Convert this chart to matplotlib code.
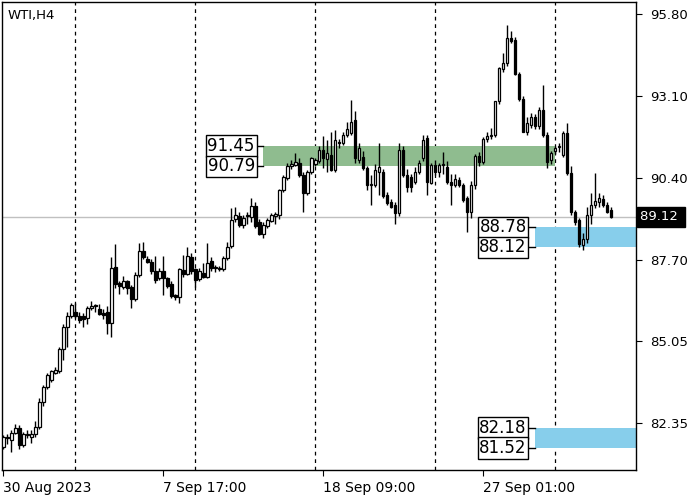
import matplotlib
matplotlib.use('Agg')
import matplotlib.pyplot as plt
import matplotlib.transforms as mtransforms

# H4 candles, oldest first
opens = [81.56, 81.90, 81.79, 82.03, 82.19, 81.62, 81.95, 81.88, 82.00, 82.22,
         83.05, 83.53, 83.77, 83.99, 84.04, 84.78, 85.50, 85.85, 86.01, 85.87,
         85.85, 85.80, 86.13, 86.20, 86.10, 85.97, 86.01, 85.64, 87.46, 86.95,
         86.82, 87.00, 86.83, 86.42, 87.20, 88.00, 87.74, 87.65, 87.35, 87.10,
         87.35, 87.10, 86.92, 86.56, 86.50, 87.38, 87.25, 87.82, 87.40, 87.08,
         87.28, 87.15, 87.66, 87.45, 87.40, 87.40, 87.76, 88.15, 89.05, 89.15,
         88.85, 89.15, 89.13, 89.48, 88.95, 88.55, 88.83, 89.00, 89.15, 89.19,
         90.00, 90.40, 90.80, 90.84, 90.90, 90.50, 89.90, 90.60, 90.87, 90.97,
         91.33, 91.02, 91.16, 90.67, 91.60, 91.55, 91.82, 91.87, 92.31, 90.99,
         91.10, 90.72, 90.17, 90.17, 90.60, 90.60, 89.85, 89.60, 89.50, 89.25,
         91.33, 90.50, 90.42, 90.27, 90.60, 91.05, 91.71, 90.25, 90.83, 90.61,
         90.83, 90.78, 90.28, 90.17, 90.35, 90.17, 89.74, 89.30, 90.17, 91.13,
         90.94, 91.68, 91.78, 91.82, 92.92, 93.98, 94.18, 95.00, 94.95, 93.83,
         93.00, 91.93, 92.15, 92.42, 92.10, 92.64, 91.82, 91.00, 91.30, 91.43,
         91.16, 91.88, 90.56, 89.30, 89.02, 88.20, 88.40, 89.18, 89.50, 89.62,
         89.70, 89.50, 89.35]
highs = [81.95, 82.00, 82.10, 82.30, 82.28, 82.05, 82.10, 82.10, 82.40, 83.17,
         83.60, 84.00, 84.10, 84.20, 84.85, 85.60, 86.00, 86.30, 86.30, 86.00,
         85.95, 86.20, 86.37, 86.25, 86.25, 86.10, 86.20, 87.82, 88.23, 87.00,
         87.18, 87.05, 86.90, 87.30, 88.26, 88.30, 87.85, 87.75, 87.85, 87.45,
         87.85, 87.15, 87.00, 86.60, 87.45, 87.87, 88.13, 87.95, 87.45, 87.45,
         87.60, 88.28, 87.80, 87.55, 87.50, 87.85, 88.30, 89.41, 89.45, 89.30,
         89.20, 89.30, 89.76, 89.60, 89.05, 88.95, 89.10, 89.25, 89.30, 90.05,
         90.50, 90.89, 91.00, 91.22, 91.05, 90.60, 90.65, 91.10, 91.05, 91.45,
         91.77, 91.65, 91.93, 91.98, 91.68, 91.90, 92.23, 92.97, 92.59, 91.55,
         91.30, 90.80, 90.50, 90.85, 91.55, 90.70, 89.95, 89.70, 89.60, 91.55,
         91.45, 90.70, 90.55, 90.75, 91.00, 91.82, 91.80, 90.90, 91.00, 90.90,
         91.27, 90.95, 90.55, 90.55, 90.45, 90.25, 89.80, 90.30, 91.20, 91.25,
         91.75, 91.90, 92.04, 92.95, 94.05, 94.51, 95.44, 95.22, 95.05, 93.90,
         93.10, 92.40, 92.55, 92.50, 92.75, 93.46, 91.90, 91.30, 91.45, 91.55,
         91.95, 92.20, 90.80, 89.35, 89.10, 88.60, 89.45, 89.90, 90.56, 89.90,
         89.85, 89.60, 89.45]
lows = [81.50, 81.65, 81.40, 81.98, 81.49, 81.55, 81.85, 81.70, 81.90, 82.15,
        82.90, 83.45, 83.70, 83.95, 84.00, 84.42, 84.86, 85.80, 85.80, 85.65,
        85.50, 85.60, 86.05, 86.00, 85.90, 85.75, 85.27, 85.19, 86.80, 86.60,
        86.75, 86.60, 86.13, 86.35, 87.15, 87.75, 87.60, 87.25, 86.95, 87.05,
        86.56, 86.80, 86.45, 86.40, 86.30, 87.15, 87.20, 87.25, 86.83, 87.00,
        87.10, 87.10, 87.35, 87.30, 87.35, 87.35, 87.70, 88.10, 88.95, 88.80,
        88.75, 88.90, 88.95, 88.75, 88.53, 88.42, 88.75, 88.95, 88.90, 89.05,
        89.95, 90.35, 90.70, 90.80, 90.45, 89.30, 89.85, 90.55, 90.80, 90.90,
        90.73, 90.60, 90.62, 90.60, 91.40, 91.50, 91.75, 91.80, 90.90, 90.90,
        90.65, 90.00, 89.50, 90.10, 89.85, 89.75, 89.50, 89.40, 88.90, 89.15,
        90.45, 89.95, 89.95, 90.20, 90.55, 90.95, 89.85, 90.20, 90.50, 90.45,
        90.55, 90.20, 89.52, 90.10, 90.10, 89.60, 88.64, 89.10, 90.05, 90.80,
        90.85, 91.60, 91.70, 91.75, 92.85, 93.90, 94.10, 94.85, 93.80, 92.95,
        91.90, 91.80, 92.05, 92.00, 92.00, 91.75, 90.72, 90.85, 91.20, 91.25,
        91.10, 90.50, 89.20, 88.85, 88.14, 88.05, 88.25, 88.90, 89.40, 89.45,
        89.45, 89.25, 89.10]
closes = [81.89, 81.85, 82.03, 82.19, 81.62, 82.00, 82.00, 82.00, 82.22, 83.05,
          83.53, 83.91, 84.04, 84.10, 84.78, 85.51, 85.87, 86.23, 85.85, 85.72,
          85.75, 86.13, 86.20, 86.18, 85.94, 85.90, 85.64, 87.43, 86.91, 86.85,
          87.00, 86.78, 86.42, 87.22, 88.00, 87.80, 87.65, 87.35, 87.05, 87.35,
          87.10, 86.85, 86.53, 86.50, 87.40, 87.25, 87.84, 87.33, 87.06, 87.33,
          87.15, 87.61, 87.44, 87.43, 87.42, 87.76, 88.12, 89.02, 89.19, 88.85,
          89.10, 89.16, 89.48, 88.83, 88.55, 88.85, 89.03, 89.17, 89.22, 90.00,
          90.42, 90.80, 90.87, 90.92, 90.50, 89.90, 90.60, 91.05, 90.98, 91.33,
          91.06, 91.22, 90.67, 91.65, 91.55, 91.82, 92.00, 92.26, 91.06, 91.38,
          90.72, 90.17, 90.17, 90.67, 90.78, 89.80, 89.57, 89.45, 89.25, 91.33,
          90.50, 90.12, 90.10, 90.61, 90.90, 91.66, 90.28, 90.83, 90.61, 90.83,
          90.83, 90.28, 90.17, 90.36, 90.17, 89.68, 89.30, 90.17, 91.13, 90.94,
          91.68, 91.78, 91.83, 92.92, 94.01, 94.18, 95.00, 94.92, 93.83, 93.00,
          91.93, 92.20, 92.42, 92.10, 92.64, 91.82, 90.94, 91.22, 91.40, 91.43,
          91.88, 90.56, 89.27, 88.97, 88.23, 88.40, 89.18, 89.50, 89.65, 89.74,
          89.52, 89.30, 89.12]

price_ticks = [95.80, 93.10, 90.40, 87.70, 85.05, 82.35]
date_idx = [0, 40, 80, 120]
date_labels = ['30 Aug 2023', '7 Sep 17:00', '18 Sep 09:00', '27 Sep 01:00']
grid_idx = [18, 48, 78, 108, 138]
last_price = 89.12

# zones: (high, low, first candle, colour)
green_zone = (91.45, 90.79, 64.9, '#8fbc8f')
blue_zone1 = (88.78, 88.12, 132.9, '#87ceeb')
blue_zone2 = (82.18, 81.52, 132.9, '#87ceeb')

xmin, xmax = -0.33, 158.2

fig = plt.figure(figsize=(7, 5), dpi=100)
ax = fig.add_axes([2 / 700, 30 / 500, 634 / 700, 468 / 500])
ax.set_xlim(xmin, xmax)
ax.set_ylim(80.80, 96.19)

for g in grid_idx:
    ax.axvline(g, color='k', linewidth=0.9, linestyle=(0, (3, 3)), zorder=1)

ax.axhline(last_price, color='#c0c0c0', linewidth=1, zorder=1)

# zones and their labels
zone_end = {green_zone: 137.9, blue_zone1: xmax, blue_zone2: xmax}
for z in (green_zone, blue_zone1, blue_zone2):
    hi, lo, x0, col = z
    ax.fill_between([x0, zone_end[z]], lo, hi, color=col, linewidth=0, zorder=2)
    for p in (hi, lo):
        ax.plot([x0 - 2.0, x0], [p, p], color='k', linewidth=1, zorder=3)
        ax.text(x0 - 2.0, p, '%.2f' % p, ha='right', va='center', fontsize=12,
                bbox=dict(boxstyle='square,pad=0.1', fc='white', ec='k', lw=1),
                zorder=6)

# candles
for i in range(len(closes)):
    o, h, l, c = opens[i], highs[i], lows[i], closes[i]
    ax.vlines(i, l, h, color='k', linewidth=1, zorder=4)
    bottom = min(o, c)
    height = max(abs(c - o), 0.03)
    fc = 'white' if c >= o else 'black'
    ax.bar(i, height, bottom=bottom, width=0.62, facecolor=fc, edgecolor='k',
           linewidth=0.9, zorder=5)

for s in ax.spines.values():
    s.set_linewidth(1)
    s.set_color('k')

ax.yaxis.tick_right()
ax.set_yticks(price_ticks)
ax.set_yticklabels(['%.2f' % p for p in price_ticks])
ax.tick_params(axis='y', direction='out', length=4, pad=6, labelsize=9.5)

ax.set_xticks(date_idx)
ax.set_xticklabels(date_labels)
for lbl in ax.get_xticklabels():
    lbl.set_horizontalalignment('left')
ax.tick_params(axis='x', direction='out', length=4, pad=4, labelsize=10)

# last price tag on the right axis
trans = mtransforms.blended_transform_factory(ax.transAxes, ax.transData)
ax.text(1.006, last_price, '%.2f ' % last_price, transform=trans, ha='left', va='center',
        fontsize=9.5, color='white', clip_on=False,
        bbox=dict(boxstyle='square,pad=0.25', fc='black', ec='black'))

ax.text(0.008, 0.985, 'WTI,H4', transform=ax.transAxes, ha='left', va='top', fontsize=9.5)

fig.savefig('out.png', dpi=100)
